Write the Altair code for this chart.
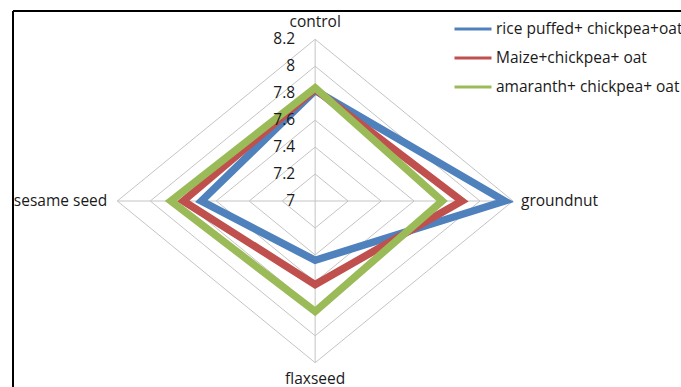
import altair as alt
import numpy as np
import pandas as pd

# Radar chart of sensory scores for three cereal/legume blends
categories = ["control", "groundnut", "flaxseed", "sesame seed"]
series_names = [
    "rice puffed+ chickpea+oat",
    "Maize+chickpea+ oat",
    "amaranth+ chickpea+ oat",
]
rice_values = [7.82, 8.15, 7.44, 7.69]
maize_values = [7.83, 7.89, 7.62, 7.80]
amaranth_values = [7.84, 7.77, 7.82, 7.875]
series_colors = ["#4F81BD", "#C0504D", "#9BBB59"]
tick_values = [7.0, 7.2, 7.4, 7.6, 7.8, 8.0, 8.2]
tick_labels = ["7", "7.2", "7.4", "7.6", "7.8", "8", "8.2"]

FONT = "Open Sans"
TEXT_COLOR = "#1a1a1a"
GRID_COLOR = "#c4c4c4"

r_min, r_max = tick_values[0], tick_values[-1]
span = r_max - r_min
# spokes run clockwise starting from the top
angles = np.arange(len(categories)) * 2 * np.pi / len(categories)


def to_xy(values):
    r = np.asarray(values, dtype=float) - r_min
    return r * np.sin(angles), r * np.cos(angles)


# series polygons
rows = []
for name, vals in zip(series_names, [rice_values, maize_values, amaranth_values]):
    xs, ys = to_xy(vals)
    for i, (cat, v, x, y) in enumerate(zip(categories, vals, xs, ys)):
        rows.append(dict(series=name, category=cat, idx=i, value=v, x=x, y=y))
series_df = pd.DataFrame(rows)

# grid rings
ring_rows = []
for lvl in tick_values[1:]:
    xs, ys = to_xy([lvl] * len(categories))
    for i, (x, y) in enumerate(zip(xs, ys)):
        ring_rows.append(dict(level=lvl, idx=i, x=x, y=y))
ring_df = pd.DataFrame(ring_rows)

# spokes and category labels
ox, oy = to_xy([r_max] * len(categories))
spoke_df = pd.DataFrame(dict(category=categories, x=0.0, y=0.0, x2=ox, y2=oy))
label_df = pd.DataFrame(dict(category=categories, x=ox, y=oy))

# radial tick labels along the top spoke
tick_df = pd.DataFrame(dict(x=0.0, y=[v - r_min for v in tick_values], label=tick_labels))

W, H = 668, 376
x_scale = alt.Scale(domain=[-span, span], range=[104.3, 500.0], nice=False, zero=False)
y_scale = alt.Scale(domain=[-span, span], range=[351.7, 28.3], nice=False, zero=False)
X = alt.X("x:Q", scale=x_scale, axis=None)
Y = alt.Y("y:Q", scale=y_scale, axis=None)

rings = alt.Chart(ring_df).mark_line(
    interpolate="linear-closed", stroke=GRID_COLOR, strokeWidth=1
).encode(x=X, y=Y, detail="level:N", order="idx:Q")

spokes = alt.Chart(spoke_df).mark_rule(stroke=GRID_COLOR, strokeWidth=1).encode(
    x=X, y=Y, x2="x2:Q", y2="y2:Q"
)

lines = alt.Chart(series_df).mark_line(
    interpolate="linear-closed", strokeWidth=7.5, strokeJoin="miter", strokeMiterLimit=10
).encode(
    x=X,
    y=Y,
    order="idx:Q",
    color=alt.Color(
        "series:N",
        scale=alt.Scale(domain=series_names, range=series_colors),
        sort=series_names,
        legend=alt.Legend(
            title=None,
            orient="none",
            legendX=440,
            legendY=-2,
            symbolType="stroke",
            symbolStrokeWidth=3,
            symbolSize=1369,
            labelFont=FONT,
            labelFontSize=15.5,
            labelColor=TEXT_COLOR,
            labelOffset=3,
            rowPadding=0,
            padding=0,
            labelLimit=400,
        ),
    ),
)

tick_text = alt.Chart(tick_df).mark_text(
    align="right", baseline="middle", dx=-20, font=FONT, fontSize=15.5, color=TEXT_COLOR
).encode(x=X, y=Y, text="label:N")

label_style = {
    "control": dict(align="center", baseline="middle", dx=0, dy=-17),
    "groundnut": dict(align="left", baseline="middle", dx=8, dy=0),
    "flaxseed": dict(align="center", baseline="middle", dx=0, dy=16),
    "sesame seed": dict(align="right", baseline="middle", dx=-10, dy=0),
}
cat_text = [
    alt.Chart(label_df)
    .transform_filter(alt.datum.category == cat)
    .mark_text(font=FONT, fontSize=15.5, color=TEXT_COLOR, **style)
    .encode(x=X, y=Y, text="category:N")
    for cat, style in label_style.items()
]

# outer frame: top and left edges of the chart box
frame_top = alt.Chart(spoke_df).mark_rule(color="#000000", strokeWidth=2).encode(
    x=alt.value(0), x2=alt.value(W), y=alt.value(0)
)
frame_left = alt.Chart(spoke_df).mark_rule(color="#000000", strokeWidth=2).encode(
    x=alt.value(0), y=alt.value(0), y2=alt.value(H)
)

chart = (
    alt.layer(rings, spokes, lines, tick_text, *cat_text, frame_top, frame_left)
    .properties(
        width=W,
        height=H,
        padding={"left": 13, "top": 11, "right": 0, "bottom": 0},
        autosize=alt.AutoSizeParams(type="none"),
        background="white",
    )
    .configure_view(stroke=None)
)

chart.save("out.html", embed_options={"renderer": "svg", "actions": False})
